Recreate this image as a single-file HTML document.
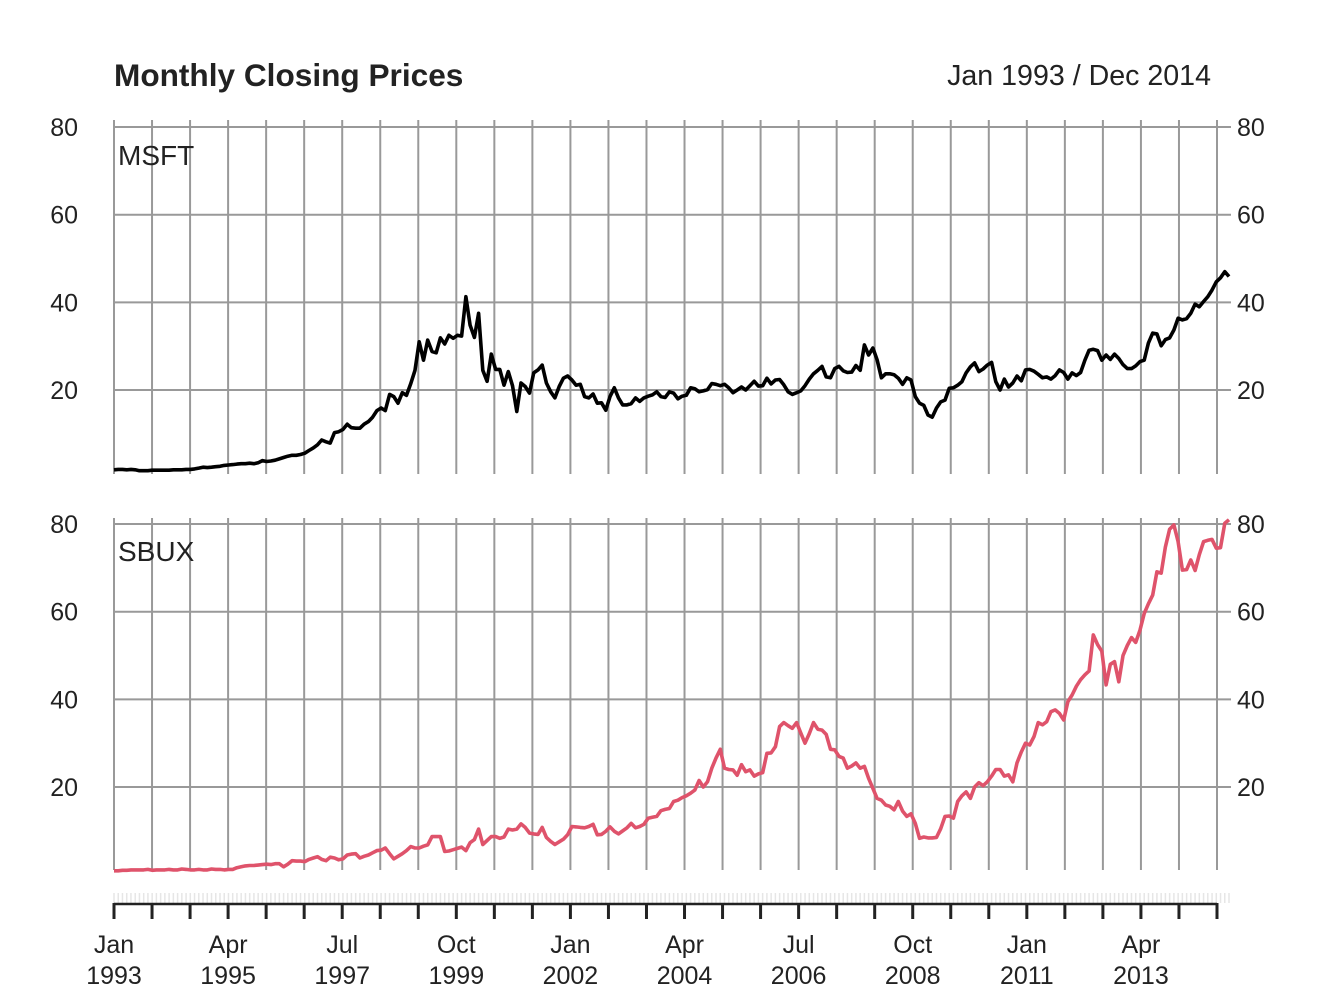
<!DOCTYPE html>
<html><head><meta charset="utf-8"><style>
html,body{margin:0;padding:0;background:#fff;}
svg{display:block;font-family:"Liberation Sans",sans-serif;}
</style></head><body>
<svg id="chart" width="1344" height="1008" viewBox="0 0 1344 1008" xmlns="http://www.w3.org/2000/svg">
<text x="114" y="86" font-size="31.6" font-weight="bold" fill="#222">Monthly Closing Prices</text>
<text x="1211" y="85" font-size="28.6" text-anchor="end" fill="#222">Jan 1993 / Dec 2014</text>
<g id="g"></g>
</svg>
<script>
const xLabels = [["Jan","1993"],["Apr","1995"],["Jul","1997"],["Oct","1999"],["Jan","2002"],["Apr","2004"],["Jul","2006"],["Oct","2008"],["Jan","2011"],["Apr","2013"]];
const yTicks = [20,40,60,80];
const msft = [
1.8,1.9,1.9,1.8,1.9,1.8,1.6,1.6,1.6,1.7,1.7,1.7,
1.7,1.7,1.8,1.8,1.8,1.9,1.9,2.0,2.2,2.4,2.3,2.4,
2.5,2.6,2.8,2.9,3.0,3.1,3.2,3.2,3.3,3.2,3.4,3.9,
3.7,3.8,4.0,4.3,4.6,4.9,5.1,5.1,5.3,5.6,6.2,6.8,
7.5,8.6,8.2,7.9,10.3,10.5,11.0,12.2,11.4,11.3,11.3,12.2,
12.8,13.8,15.3,15.9,15.3,19.0,18.5,17.0,19.4,18.8,21.5,24.5,
31.0,26.8,31.4,28.8,28.5,31.9,30.5,32.5,31.8,32.5,32.3,41.3,
34.8,32.0,37.5,24.5,22.0,28.2,24.7,24.7,21.1,24.2,21.0,15.1,
21.6,20.8,19.3,23.9,24.6,25.7,21.6,19.6,18.2,20.8,22.7,23.2,
22.3,21.1,21.3,18.5,18.2,19.1,17.0,17.1,15.4,18.5,20.5,18.2,
16.6,16.6,16.9,18.2,17.4,18.2,18.6,18.9,19.6,18.5,18.3,19.6,
19.3,18.0,18.6,18.8,20.5,20.3,19.6,19.8,20.1,21.5,21.3,21.0,
21.3,20.5,19.4,20.0,20.7,20.0,21.0,22.0,20.9,21.0,22.7,21.4,
22.3,22.4,21.2,19.6,19.0,19.4,19.8,21.0,22.5,23.7,24.5,25.4,
23.0,22.8,24.9,25.4,24.4,24.0,24.1,25.6,24.5,30.3,28.0,29.6,
26.9,22.8,23.7,23.7,23.5,22.7,21.3,22.8,22.3,18.5,17.0,16.5,
14.3,13.8,15.9,17.3,17.7,20.4,20.5,21.1,21.9,23.9,25.3,26.2,
24.2,24.8,25.7,26.3,21.9,20.0,22.5,20.7,21.6,23.2,22.1,24.6,
24.7,24.3,23.6,22.8,23.0,22.5,23.3,24.6,24.0,22.5,23.9,23.3,
24.0,26.8,29.1,29.3,29.0,26.8,28.0,27.0,28.2,27.2,25.8,24.9,
24.9,25.5,26.5,26.8,30.7,33.0,32.8,30.1,31.5,31.9,33.7,36.4,
36.0,36.3,37.5,39.6,39.0,40.2,41.3,42.8,44.7,45.6,47.0,45.9];
const sbux = [
0.9,0.9,1.0,1.0,1.1,1.1,1.1,1.1,1.2,1.0,1.1,1.1,
1.1,1.2,1.1,1.1,1.3,1.2,1.1,1.1,1.2,1.1,1.1,1.3,
1.2,1.2,1.1,1.2,1.2,1.6,1.8,2.0,2.1,2.1,2.2,2.3,
2.4,2.3,2.5,2.5,1.8,2.4,3.2,3.1,3.1,3.0,3.5,3.8,
4.1,3.5,3.2,4.0,3.8,3.4,3.6,4.5,4.7,4.8,3.8,4.2,
4.5,5.0,5.5,5.6,6.1,4.8,3.6,4.2,4.8,5.5,6.4,6.1,
6.1,6.5,6.8,8.7,8.7,8.7,5.3,5.4,5.7,6.0,6.3,5.5,
7.3,8.0,10.4,6.9,7.8,8.7,8.7,8.3,8.6,10.4,10.2,10.4,
11.6,10.8,9.5,9.3,9.2,10.8,8.5,7.6,6.9,7.5,8.1,9.1,
11.0,10.9,10.8,10.7,11.0,11.5,9.1,9.2,9.9,10.9,9.9,9.3,
10.0,10.7,11.7,10.7,11.0,11.5,12.9,13.1,13.3,14.6,14.9,15.1,
16.7,17.0,17.6,18.0,18.6,19.3,21.5,20.0,21.2,24.3,26.6,28.6,
24.3,24.0,23.9,22.7,25.1,23.5,23.9,22.5,23.0,23.3,27.7,27.8,
29.2,33.8,34.7,34.0,33.4,34.7,32.3,30.0,32.2,34.7,33.2,33.0,
32.0,28.6,28.5,27.0,26.6,24.3,24.8,25.5,24.3,24.7,22.0,19.7,
17.4,17.0,15.9,15.6,14.8,16.7,14.5,13.3,13.9,11.7,8.3,8.6,
8.4,8.4,8.5,10.5,13.3,13.4,12.9,16.7,18.0,18.9,17.4,20.0,
21.0,20.3,21.2,22.5,24.0,24.0,22.5,22.8,21.2,25.5,28.0,30.0,
29.6,31.5,34.7,34.2,34.9,37.2,37.6,36.8,35.3,39.5,41.0,43.0,
44.5,45.6,46.5,54.7,52.5,51.0,43.3,48.0,48.6,44.0,50.0,52.3,
54.1,53.0,55.8,59.6,61.8,63.8,69.1,68.8,74.8,78.8,79.8,76.0,
69.5,69.6,71.8,69.4,73.0,76.0,76.3,76.5,74.5,74.6,80.2,81.0];

const NS="http://www.w3.org/2000/svg";
const g=document.getElementById('g');
const X0=114, X1=1229, N=264;
function xPos(i){return X0+i*(X1-X0)/(N-1);}
function gridX(k){return X0+k*(1217-X0)/29;}
function yTop(v){return 477.7-v*4.383;}
function yBot(v){return 874.7-v*4.383;}
function mk(tag,attrs,parent){const e=document.createElementNS(NS,tag);for(const k in attrs)e.setAttribute(k,attrs[k]);(parent||g).appendChild(e);return e;}

const panels=[{y:yTop,top:120,bot:474,name:'msft',label:'MSFT',labY:165,data:msft,color:'#000'},
              {y:yBot,top:518,bot:870,name:'sbux',label:'SBUX',labY:561,data:sbux,color:'#DF536B'}];
panels.forEach(p=>{
  for(let k=0;k<=29;k++){
    const x=gridX(k);
    const l=mk('line',{x1:x,x2:x,y1:p.top,y2:p.bot,stroke:'#999','stroke-width':2});
    
    
  }
  yTicks.forEach(v=>{
    const y=p.y(v);
    const l=mk('line',{x1:113,x2:1231,y1:y,y2:y,stroke:'#999','stroke-width':2});
    
    
    const t1=mk('text',{x:78,y:y+9,'font-size':25,'text-anchor':'end',fill:'#222'});
    t1.textContent=v;
    
    
    const t2=mk('text',{x:1237,y:y+9,'font-size':25,fill:'#222'});
    t2.textContent=v;
    
    
  });
  const pts=p.data.map((v,i)=>xPos(i).toFixed(1)+','+p.y(v).toFixed(1)).join(' ');
  const pl=mk('polyline',{points:pts,fill:'none',stroke:p.color,'stroke-width':3.6,'stroke-linejoin':'round'});
  
  
  const lab=mk('text',{x:118,y:p.labY,'font-size':28,fill:'#222'});
  lab.textContent=p.label;
  
  
});
for(let i=0;i<N;i++){
  const x=xPos(i);
  const m=mk('line',{x1:x,x2:x,y1:893,y2:903,stroke:'#e6e6e6','stroke-width':1.5});
  
  
}
const ax=mk('line',{x1:X0,x2:gridX(29),y1:904,y2:904,stroke:'#222','stroke-width':2.5});


for(let k=0;k<=29;k++){
  const x=gridX(k);
  const t=mk('line',{x1:x,x2:x,y1:903,y2:919,stroke:'#222','stroke-width':3});
  
  
}
xLabels.forEach((lb,k)=>{
  const x=gridX(k*3);
  const a=mk('text',{x:x,y:953,'font-size':25,'text-anchor':'middle',fill:'#222'});
  a.textContent=lb[0];
  
  
  const b=mk('text',{x:x,y:984,'font-size':25,'text-anchor':'middle',fill:'#222'});
  b.textContent=lb[1];
  
  
});
</script>
</body></html>
